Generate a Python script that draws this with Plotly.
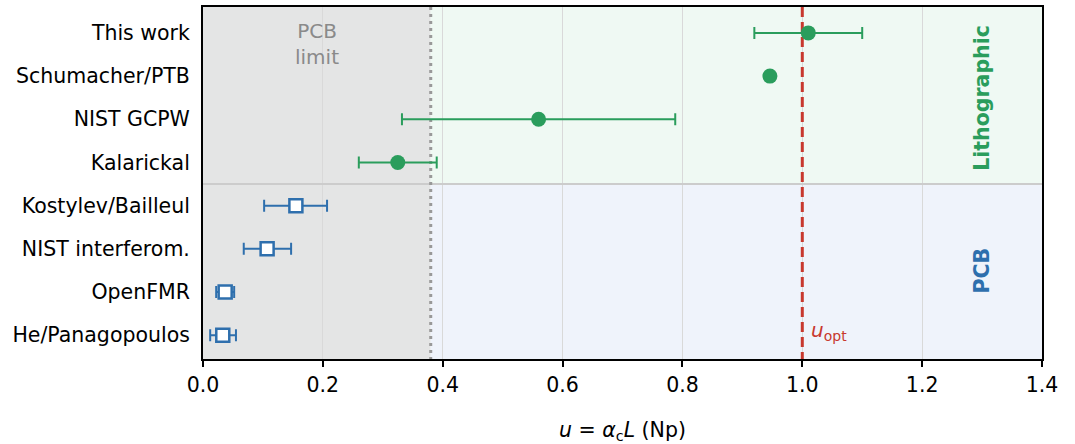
import plotly.graph_objects as go

labels = ["This work", "Schumacher/PTB", "NIST GCPW", "Kalarickal",
          "Kostylev/Bailleul", "NIST interferom.", "OpenFMR", "He/Panagopoulos"]
litho_vals = [1.01, 0.946, 0.56, 0.325]
litho_lo = [0.09, 0.005, 0.228, 0.065]
litho_hi = [0.09, 0.005, 0.228, 0.065]
pcb_vals = [0.155, 0.107, 0.037, 0.033]
pcb_lo = [0.053, 0.039, 0.015, 0.021]
pcb_hi = [0.052, 0.040, 0.015, 0.022]
pcb_limit = 0.38
u_opt = 1.0
xticks = [0.0, 0.2, 0.4, 0.6, 0.8, 1.0, 1.2, 1.4]

GREEN = "#2a9d5c"
BLUE = "#2e6fad"
RED = "#c8382e"
FONT = "DejaVu Sans"

ypos = list(range(len(labels)))
y_lo, y_hi = 7.55, -0.6

fig = go.Figure()

fig.add_trace(go.Scatter(
    x=litho_vals, y=ypos[:4], mode="markers",
    marker=dict(symbol="circle", size=15, color=GREEN, line=dict(width=0)),
    error_x=dict(type="data", symmetric=False, array=litho_hi, arrayminus=litho_lo,
                 color=GREEN, thickness=2, width=6),
    showlegend=False, hoverinfo="skip"))

fig.add_trace(go.Scatter(
    x=pcb_vals, y=ypos[4:], mode="markers",
    marker=dict(symbol="square", size=13, color="white", line=dict(width=2.5, color=BLUE)),
    error_x=dict(type="data", symmetric=False, array=pcb_hi, arrayminus=pcb_lo,
                 color=BLUE, thickness=2, width=6),
    showlegend=False, hoverinfo="skip"))

shapes = [
    dict(type="rect", xref="x", yref="y", x0=0, x1=pcb_limit, y0=y_hi, y1=y_lo,
         fillcolor="#e4e5e5", line=dict(width=0), layer="below"),
    dict(type="rect", xref="x", yref="y", x0=pcb_limit, x1=1.4, y0=y_hi, y1=3.5,
         fillcolor="#eff9f3", line=dict(width=0), layer="below"),
    dict(type="rect", xref="x", yref="y", x0=pcb_limit, x1=1.4, y0=3.5, y1=y_lo,
         fillcolor="#eff3fb", line=dict(width=0), layer="below"),
    dict(type="line", xref="x", yref="y", x0=0, x1=1.4, y0=3.5, y1=3.5,
         line=dict(color="#cccccc", width=2), layer="between"),
    dict(type="line", xref="x", yref="y", x0=pcb_limit, x1=pcb_limit, y0=y_hi, y1=y_lo,
         line=dict(color="#999999", width=3, dash="3px,4px"), layer="between"),
    dict(type="line", xref="x", yref="y", x0=u_opt, x1=u_opt, y0=y_hi, y1=y_lo,
         line=dict(color=RED, width=3, dash="10px,5px"), layer="between"),
]

annotations = [
    dict(x=0.19, y=0.25, xref="x", yref="y", text="PCB<br>limit", showarrow=False,
         font=dict(family=FONT, size=20, color="#8a8a8a"), align="center"),
    dict(x=1.3, y=1.5, xref="x", yref="y", text="<b>Lithographic</b>", showarrow=False,
         textangle=-90, font=dict(family=FONT, size=20.5, color=GREEN)),
    dict(x=1.3, y=5.5, xref="x", yref="y", text="<b>PCB</b>", showarrow=False,
         textangle=-90, font=dict(family=FONT, size=20.5, color=BLUE)),
    dict(x=1.012, y=6.9, xref="x", yref="y", text="<i>u</i><sub>opt</sub>", showarrow=False,
         xanchor="left", font=dict(family=FONT, size=20, color=RED)),
]

fig.update_layout(
    width=1075, height=444,
    margin=dict(l=203, r=33, t=5, b=84),
    paper_bgcolor="white", plot_bgcolor="white",
    font=dict(family=FONT, size=20.5, color="black"),
    shapes=shapes, annotations=annotations,
    hovermode=False,
    xaxis=dict(range=[0, 1.4], tickvals=xticks, ticktext=[f"{v:.1f}" for v in xticks],
               showgrid=True, gridcolor="#d9d9d9", gridwidth=1,
               showline=True, linecolor="black", linewidth=2, mirror=True,
               ticks="outside", ticklen=6, tickwidth=2, tickcolor="black",
               zeroline=False,
               title=dict(text="<i>u</i> = <i>α</i><sub>c</sub><i>L</i> (Np)",
                          font=dict(family=FONT, size=20.5), standoff=28)),
    yaxis=dict(range=[y_lo, y_hi], tickvals=ypos, ticktext=labels,
               showgrid=False, zeroline=False,
               showline=True, linecolor="black", linewidth=2, mirror=True,
               ticks="", ticklabelstandoff=7),
)

fig.write_html("out.html", config={"displayModeBar": False},
               post_script="document.body.style.margin='0';")
